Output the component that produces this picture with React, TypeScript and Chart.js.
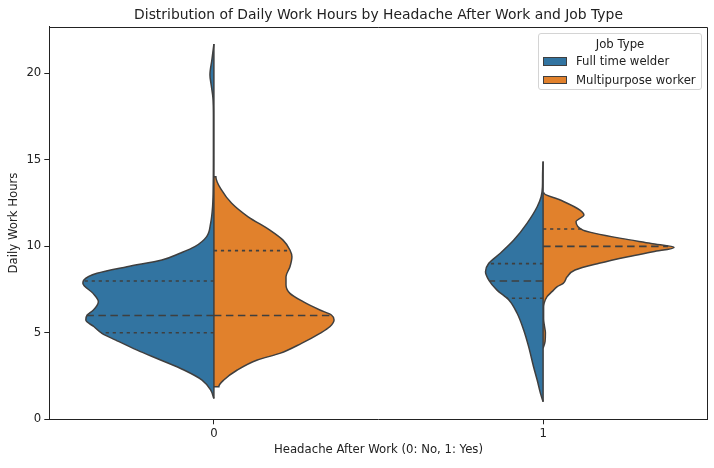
import React, { useEffect, useRef } from "react";
import { Chart, registerables } from "chart.js";

Chart.register(...registerables);

// Categories on the x axis (headache after work) and hue groups
const HEADACHE_GROUPS = [0, 1];
const X_TICK_LABELS = ["0", "1"];
const JOB_TYPES = ["Full time welder", "Multipurpose worker"];
const JOB_COLORS = ["#3274a1", "#e1812c"];
const Y_TICKS = [0, 5, 10, 15, 20];

// Half-violin density profiles: hours sampled along the violin, half-width in category units
const welderNoHours = [1.2, 1.7, 2.27, 2.85, 3.43, 4.0, 4.58, 4.97, 5.35, 5.74, 6.03, 6.32, 6.8, 7.28, 7.86, 8.05, 8.44, 8.82, 9.21, 9.6, 9.98, 10.56, 11.33, 12.29, 13.6, 15.5, 17.5, 18.6, 19.3, 19.9, 20.8, 21.7];
const welderNoWidth = [0, 0.01, 0.036, 0.091, 0.162, 0.233, 0.298, 0.34, 0.364, 0.389, 0.385, 0.366, 0.351, 0.367, 0.398, 0.395, 0.355, 0.264, 0.158, 0.103, 0.058, 0.022, 0.01, 0.004, 0.002, 0.0015, 0.0015, 0.003, 0.008, 0.012, 0.006, 0];

const multiNoHours = [1.88, 2.27, 2.85, 3.43, 3.81, 4.39, 4.97, 5.35, 5.74, 6.03, 6.32, 6.8, 7.28, 7.76, 8.24, 8.82, 9.4, 9.79, 10.36, 10.94, 11.71, 12.49, 13.26, 14.03];
const multiNoWidth = [0.015, 0.03, 0.071, 0.132, 0.2, 0.266, 0.322, 0.352, 0.365, 0.357, 0.322, 0.271, 0.231, 0.219, 0.219, 0.231, 0.237, 0.231, 0.21, 0.17, 0.104, 0.054, 0.023, 0.006];

const welderYesHours = [1.02, 1.5, 2.27, 3.04, 4.2, 5.16, 6.13, 6.9, 7.47, 8.05, 8.53, 9.02, 9.6, 10.36, 11.33, 12.29, 12.87, 13.45, 14.2, 14.9];
const welderYesWidth = [0, 0.008, 0.018, 0.029, 0.044, 0.059, 0.079, 0.104, 0.14, 0.165, 0.175, 0.165, 0.13, 0.089, 0.049, 0.018, 0.006, 0.002, 0.0015, 0];

const multiYesHours = [4.1, 4.5, 5.0, 5.4, 5.8, 6.4, 6.7, 7.09, 7.38, 7.67, 7.86, 8.24, 8.63, 9.02, 9.4, 9.69, 9.94, 10.17, 10.46, 10.75, 10.94, 11.42, 11.81, 12.1, 12.68, 13.07];
const multiYesWidth = [0, 0.006, 0.007, 0.004, 0.0015, 0.0015, 0.003, 0.012, 0.027, 0.043, 0.061, 0.073, 0.097, 0.17, 0.258, 0.334, 0.398, 0.328, 0.237, 0.158, 0.121, 0.1, 0.124, 0.112, 0.052, 0.003];

// Medians and visible quartiles per half
const welderNoMedian = 6;
const welderNoQuartiles = [5, 8];
const multiNoMedian = 6;
const multiNoQuartiles = [9.75];
const welderYesMedian = 8;
const welderYesQuartiles = [7, 9];
const multiYesMedian = 10;
const multiYesQuartiles = [11];

const FONT = "'DejaVu Sans', 'Liberation Sans', sans-serif";
const EDGE = "#3f3f3f";
const INK = "#222";

type Half = {
  group: number;
  side: number; // -1 left, +1 right
  color: string;
  hours: number[];
  width: number[];
  median: number;
  quartiles: number[];
};

const HALVES: Half[] = [
  { group: 0, side: -1, color: JOB_COLORS[0], hours: welderNoHours, width: welderNoWidth, median: welderNoMedian, quartiles: welderNoQuartiles },
  { group: 0, side: 1, color: JOB_COLORS[1], hours: multiNoHours, width: multiNoWidth, median: multiNoMedian, quartiles: multiNoQuartiles },
  { group: 1, side: -1, color: JOB_COLORS[0], hours: welderYesHours, width: welderYesWidth, median: welderYesMedian, quartiles: welderYesQuartiles },
  { group: 1, side: 1, color: JOB_COLORS[1], hours: multiYesHours, width: multiYesWidth, median: multiYesMedian, quartiles: multiYesQuartiles },
];

function widthAt(h: Half, y: number): number {
  const { hours, width } = h;
  if (y <= hours[0]) return width[0];
  for (let i = 1; i < hours.length; i++) {
    if (y <= hours[i]) {
      const t = (y - hours[i - 1]) / (hours[i] - hours[i - 1]);
      return width[i - 1] + t * (width[i] - width[i - 1]);
    }
  }
  return width[width.length - 1];
}

function buildDatasets(): any[] {
  const sets: any[] = [];
  // violin bodies
  HALVES.forEach((h) => {
    const pts: { x: number; y: number }[] = [];
    if (h.width[0] > 0) pts.push({ x: h.group, y: h.hours[0] });
    h.hours.forEach((y, i) => pts.push({ x: h.group + h.side * h.width[i], y }));
    if (h.width[h.width.length - 1] > 0) pts.push({ x: h.group, y: h.hours[h.hours.length - 1] });
    sets.push({
      data: pts,
      borderColor: EDGE,
      borderWidth: 1.5,
      backgroundColor: h.color,
      fill: "shape",
      pointRadius: 0,
      cubicInterpolationMode: "monotone",
      order: 3,
    });
  });
  // split centre lines
  HEADACHE_GROUPS.forEach((g) => {
    const halves = HALVES.filter((h) => h.group === g);
    const lo = Math.min(...halves.map((h) => h.hours[0]));
    const hi = Math.max(...halves.map((h) => h.hours[h.hours.length - 1]));
    sets.push({
      data: [{ x: g, y: lo }, { x: g, y: hi }],
      borderColor: EDGE,
      borderWidth: 1.5,
      pointRadius: 0,
      fill: false,
      tension: 0,
      order: 2,
    });
  });
  // inner quartile / median lines
  HALVES.forEach((h) => {
    h.quartiles.forEach((q) => {
      sets.push({
        data: [{ x: h.group, y: q }, { x: h.group + h.side * widthAt(h, q), y: q }],
        borderColor: EDGE,
        borderWidth: 1.6,
        borderDash: [3.2, 3.8],
        pointRadius: 0,
        fill: false,
        tension: 0,
        order: 1,
      });
    });
    sets.push({
      data: [{ x: h.group, y: h.median }, { x: h.group + h.side * widthAt(h, h.median), y: h.median }],
      borderColor: EDGE,
      borderWidth: 1.6,
      borderDash: [7.5, 4.5],
      pointRadius: 0,
      fill: false,
      tension: 0,
      order: 1,
    });
  });
  return sets;
}

// top and right spines of the axes box
const framePlugin = {
  id: "frame",
  afterDatasetsDraw(chart: any) {
    const { ctx, chartArea } = chart;
    ctx.save();
    ctx.strokeStyle = INK;
    ctx.lineWidth = 1;
    const l = Math.round(chartArea.left);
    const t = Math.round(chartArea.top) + 0.5;
    const r = Math.round(chartArea.right) - 0.5;
    const b = Math.round(chartArea.bottom);
    ctx.beginPath();
    ctx.moveTo(l, t);
    ctx.lineTo(r, t);
    ctx.lineTo(r, b);
    ctx.stroke();
    ctx.restore();
  },
};

export default function App() {
  const ref = useRef<HTMLCanvasElement | null>(null);

  useEffect(() => {
    if (!ref.current) return;
    const tickFont = { family: FONT, size: 11.7 };
    const chart = new Chart(ref.current, {
      type: "line",
      data: { datasets: buildDatasets() },
      options: {
        animation: false,
        responsive: false,
        indexAxis: "y",
        layout: { padding: { top: 0, right: 6.3, bottom: 0, left: 0 } },
        plugins: {
          legend: { display: false },
          tooltip: { enabled: false },
          title: {
            display: true,
            fullSize: false,
            text: "Distribution of Daily Work Hours by Headache After Work and Job Type",
            color: INK,
            font: { family: FONT, size: 13.9, weight: "normal" },
            padding: { top: 6.6, bottom: 3.4 },
          },
        },
        scales: {
          x: {
            type: "linear",
            min: -0.5,
            max: 1.5,
            afterBuildTicks: (s: any) => {
              s.ticks = HEADACHE_GROUPS.map((v) => ({ value: v }));
            },
            afterFit: (s: any) => {
              s.height = 48.7;
            },
            ticks: {
              callback: (v: any) => X_TICK_LABELS[HEADACHE_GROUPS.indexOf(Number(v))] ?? "",
              font: tickFont,
              color: INK,
              padding: 3,
              maxRotation: 0,
            },
            grid: { display: true, drawOnChartArea: false, drawTicks: true, tickLength: 5, color: INK, lineWidth: 1 },
            border: { display: true, color: INK, width: 1 },
            title: {
              display: true,
              text: "Headache After Work (0: No, 1: Yes)",
              color: INK,
              font: tickFont,
              padding: { top: 0, bottom: 11 },
            },
          },
          y: {
            type: "linear",
            min: 0,
            max: 22.7,
            afterBuildTicks: (s: any) => {
              s.ticks = Y_TICKS.map((v) => ({ value: v }));
            },
            afterFit: (s: any) => {
              s.width = 49.3;
            },
            ticks: { font: tickFont, color: INK, padding: 3 },
            grid: { display: true, drawOnChartArea: false, drawTicks: true, tickLength: 5, color: INK, lineWidth: 1 },
            border: { display: true, color: INK, width: 1 },
            title: {
              display: true,
              text: "Daily Work Hours",
              color: INK,
              font: tickFont,
              padding: { top: 7, bottom: 0 },
            },
          },
        },
      } as any,
      plugins: [framePlugin],
    });
    return () => chart.destroy();
  }, []);

  const legendText: React.CSSProperties = {
    position: "absolute",
    fontFamily: FONT,
    fontSize: 11.7,
    lineHeight: "14px",
    color: INK,
    whiteSpace: "nowrap",
  };

  return (
    <div style={{ position: "absolute", left: 0, top: 0, width: 714, height: 468, background: "#fff" }}>
      <canvas ref={ref} width={714} height={468} style={{ display: "block", width: 714, height: 468 }} />
      <div
        style={{
          position: "absolute",
          left: 538,
          top: 33,
          width: 164,
          height: 57,
          boxSizing: "border-box",
          border: "1px solid #d4d4d4",
          borderRadius: 3,
          background: "rgba(255,255,255,0.8)",
        }}
      >
        <div style={{ ...legendText, left: 0, width: "100%", top: 3, textAlign: "center" }}>Job Type</div>
        {JOB_TYPES.map((name, i) => (
          <React.Fragment key={name}>
            <div
              style={{
                position: "absolute",
                left: 3.7,
                top: 23.3 + i * 18.2,
                width: 24,
                height: 8.5,
                boxSizing: "border-box",
                border: `1px solid ${EDGE}`,
                background: JOB_COLORS[i],
              }}
            />
            <div style={{ ...legendText, left: 37, top: 20.3 + i * 18.2 }}>{name}</div>
          </React.Fragment>
        ))}
      </div>
    </div>
  );
}
